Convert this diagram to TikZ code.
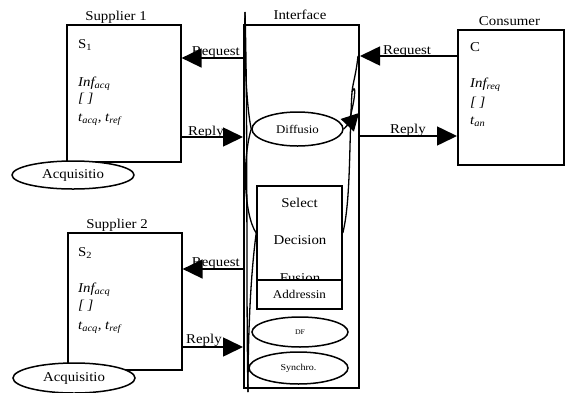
\documentclass[tikz,border=0pt]{standalone}
\usepackage{fontspec}
\setmainfont{Liberation Serif}[FakeStretch=1.1]
\usetikzlibrary{arrows.meta,shapes.geometric}
\begin{document}
\begin{tikzpicture}[x=1pt,y=-1pt,
  every node/.style={inner sep=0pt, font=\fontsize{13.5}{16}\selectfont},
  box/.style={draw, line width=1.6pt, anchor=north west},
  txt/.style={anchor=base west},
  lbl/.style={anchor=base},
  oval/.style={draw, ellipse, line width=1.5pt, fill=white},
  arr/.style={line width=1.6pt, -{Triangle[length=20pt,width=19pt]}},
  curve/.style={line width=1.3pt}]
\useasboundingbox (0,0) rectangle (566,392);
\clip (0,0) rectangle (566,392);

% Supplier 1
\node[box, minimum width=114pt, minimum height=137pt] (s1) at (66,24) {};
\node[lbl] (s1l) at (116,20) {Supplier 1};
\node[txt] (s1a) at (78,48.5) {S\textsubscript{1}};
\node[txt] (s1b) at (78,86) {\textit{Inf\textsubscript{acq}}};
\node[txt] (s1c) at (78,102) {\textit{[ ]}};
\node[txt] (s1d) at (78,121) {\textit{t\textsubscript{acq}, t\textsubscript{ref}}};
\node[oval, minimum width=122pt, minimum height=28pt] (acq1) at (73,175) {Acquisitio};

% Supplier 2
\node[box, minimum width=114pt, minimum height=137pt] (s2) at (67,232) {};
\node[lbl] (s2l) at (117,228) {Supplier 2};
\node[txt] (s2a) at (78,256.5) {S\textsubscript{2}};
\node[txt] (s2b) at (78,292) {\textit{Inf\textsubscript{acq}}};
\node[txt] (s2c) at (78,309) {\textit{[ ]}};
\node[txt] (s2d) at (78,329) {\textit{t\textsubscript{acq}, t\textsubscript{ref}}};
\node[oval, minimum width=122pt, minimum height=30pt] (acq2) at (74,378) {Acquisitio};

% Consumer
\node[box, minimum width=106pt, minimum height=135pt] (cons) at (457,29) {};
\node[lbl] (consl) at (509.5,25.5) {Consumer};
\node[txt] (ca) at (470,51.5) {C};
\node[txt] (cb) at (470,87.5) {\textit{Inf\textsubscript{req}}};
\node[txt] (cc) at (470,106) {\textit{[ ]}};
\node[txt] (cd) at (470,124) {\textit{t\textsubscript{an}}};

% Interface
\node[box, line width=2pt, minimum width=115pt, minimum height=363pt] (iface) at (243,24) {};
\node[lbl] (ifl) at (300,19.5) {Interface};
\node[oval, minimum width=91pt, minimum height=34pt, font=\fontsize{11.7}{14}\selectfont] (dif) at (297.5,129) {Diffusio};
\node[draw, line width=1.6pt, minimum width=85pt, minimum height=94pt] (sel) at (299.5,233) {};
\node[lbl] (selt) at (299.5,207) {Select};
\node[lbl] (dect) at (300,244) {Decision};
\node[lbl] (fust) at (300,282.5) {Fusion};
\node[draw, fill=white, line width=1.6pt, minimum width=85pt, minimum height=29pt, font=\fontsize{11.9}{14}\selectfont] (adr) at (299.5,294.5) {Addressin};
\node[oval, minimum width=96pt, minimum height=30pt, font=\fontsize{7.1}{9}\selectfont] (df) at (300,332) {DF};
\node[oval, minimum width=99pt, minimum height=32pt, font=\fontsize{9.1}{11}\selectfont] (syn) at (298.5,368) {Synchro.};

% curves inside interface
\draw[curve] (245,12) .. controls (244,60) and (247,110) .. (dif.west);
\draw[curve] (245,12) .. controls (248,120) and (246,300) .. (248,392);
\draw[curve] (dif.west) .. controls (242,160) and (244,215) .. (sel.west);
\draw[curve] (sel.west) .. controls (250,280) and (248,340) .. (248,392);
\draw[curve] (358,56) .. controls (356,75) and (353,82) .. (352,92) .. controls (349,140) and (351,200) .. (sel.east);
\draw[curve] (352,92) .. controls (355,84) and (357,90) .. (350,118);
\coordinate (difend) at (359,113);
\draw[curve, -{Triangle[length=17pt,width=18pt]}] (dif.east) -- (difend);

% labels
\node[anchor=base east] (rq1) at (240,55.5) {Request};
\node[anchor=base west] (rp1) at (188,135) {Reply};
\node[anchor=base east] (rq2) at (240,266) {Request};
\node[anchor=base west] (rp2) at (186,343) {Reply};
\node[anchor=base west] (rqc) at (383,54) {Request};
\node[anchor=base west] (rpc) at (390,133) {Reply};

% arrows
\draw[arr] (iface.west |- 0,58) -- (s1.east |- 0,58);
\draw[arr] (s1.east |- 0,137) -- (iface.west |- 0,137);
\draw[arr] (iface.west |- 0,269) -- (s2.east |- 0,269);
\draw[arr] (s2.east |- 0,347) -- (iface.west |- 0,347);
\draw[arr] (cons.west |- 0,56) -- (iface.east |- 0,56);
\draw[arr] (iface.east |- 0,136) -- (cons.west |- 0,136);
\end{tikzpicture}
\end{document}
